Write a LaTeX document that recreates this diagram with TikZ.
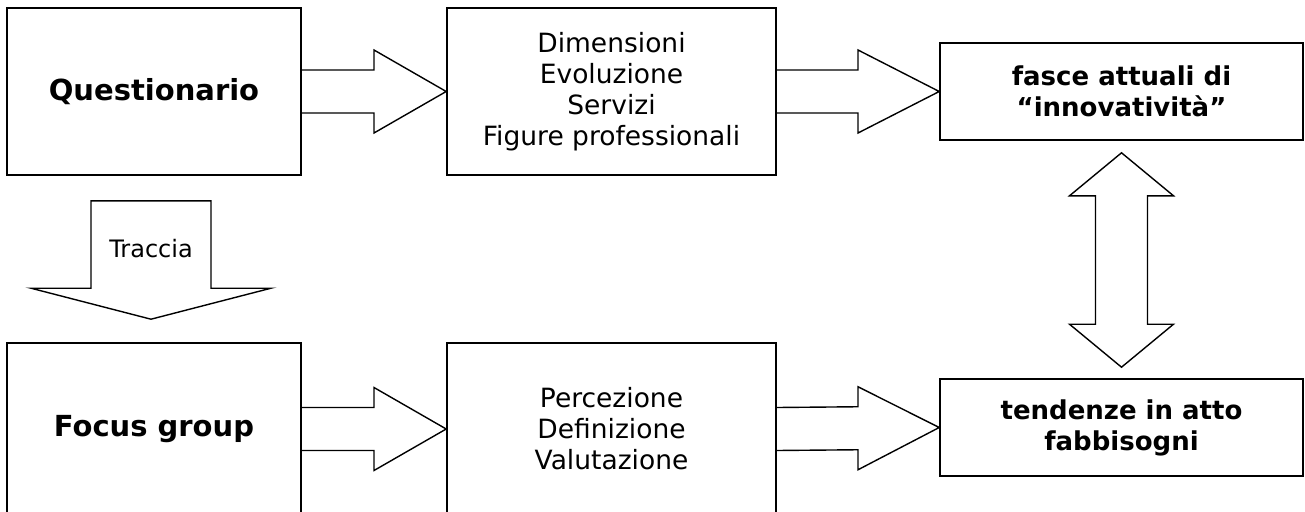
\documentclass[tikz,border=0pt]{standalone}
\usepackage{fontspec}
\setmainfont{DejaVu Sans}
\usetikzlibrary{calc}

\tikzset{
	box/.style={draw, line width=1.6pt, align=center, inner sep=0pt,
		font=\fontsize{26.5}{31}\selectfont},
	title/.style={box, font=\fontsize{29}{34}\selectfont\bfseries},
	result/.style={box, font=\fontsize{26}{31}\selectfont\bfseries},
	fat/.style={draw, line width=1.4pt, line join=miter},
}

% block arrow from the east side of #1 to the west side of #2
\newcommand{\fatarrow}[2]{%
	\coordinate (m) at ($(#1.east)!.5!(#2.west)$);
	\draw[fat] ($(#1.east)+(0,-21.5)$) -- ($(m)+(0,-21.5)$) -- ($(m)+(0,-41.5)$)
		-- (#2.west) -- ($(m)+(0,41.5)$) -- ($(m)+(0,21.5)$) -- ($(#1.east)+(0,21.5)$);
}

\begin{document}
\begin{tikzpicture}[x=1pt, y=-1pt]
	\clip (0,0) rectangle (1305,511);

	\node[title, minimum width=294, minimum height=167] (quest) at (154,91.5) {Questionario};
	\node[box, minimum width=329, minimum height=167] (dim) at (611.5,91.5)
		{Dimensioni\\Evoluzione\\Servizi\\Figure professionali};
	\node[result, minimum width=363, minimum height=97] (fasce) at (1121.5,91.5)
		{fasce attuali di\\``innovatività''};

	\node[title, minimum width=294, minimum height=172] (focus) at (154,429) {Focus group};
	\node[box, minimum width=329, minimum height=172] (perc) at (611.5,429)
		{Percezione\\Definizione\\Valutazione};
	\node[result, minimum width=363, minimum height=97] (tend) at (1121.5,427.5)
		{tendenze in atto\\fabbisogni};

	\fatarrow{quest}{dim}
	\fatarrow{dim}{fasce}
	\fatarrow{focus}{perc}
	\fatarrow{perc}{tend}

	% Traccia
	\coordinate (ts) at ($(quest.south)+(-3,25)$);
	\coordinate (tt) at ($(focus.north)+(-3,-23)$);
	\draw[fat] ($(ts)+(-60,0)$) -- ($(ts)+(60,0)$) -- ($(tt)+(60,-31)$) -- ++(60,0)
		-- (tt) -- ++(-120,-31) -- ++(60,0) -- cycle;
	\node[font=\fontsize{24}{28}\selectfont] (traccia) at ($(ts)+(0,48)$) {Traccia};

	% double arrow
	\coordinate (t) at ($(fasce.south)+(0,12)$);
	\coordinate (b) at ($(tend.north)+(0,-11)$);
	\draw[fat] (t) -- ++(52,43) -- ++(-26,0) -- ($(b)+(26,-43)$) -- ++(26,0)
		-- (b) -- ++(-52,-43) -- ++(26,0) -- ($(t)+(-26,43)$) -- ++(-26,0) -- cycle;
\end{tikzpicture}
\end{document}
